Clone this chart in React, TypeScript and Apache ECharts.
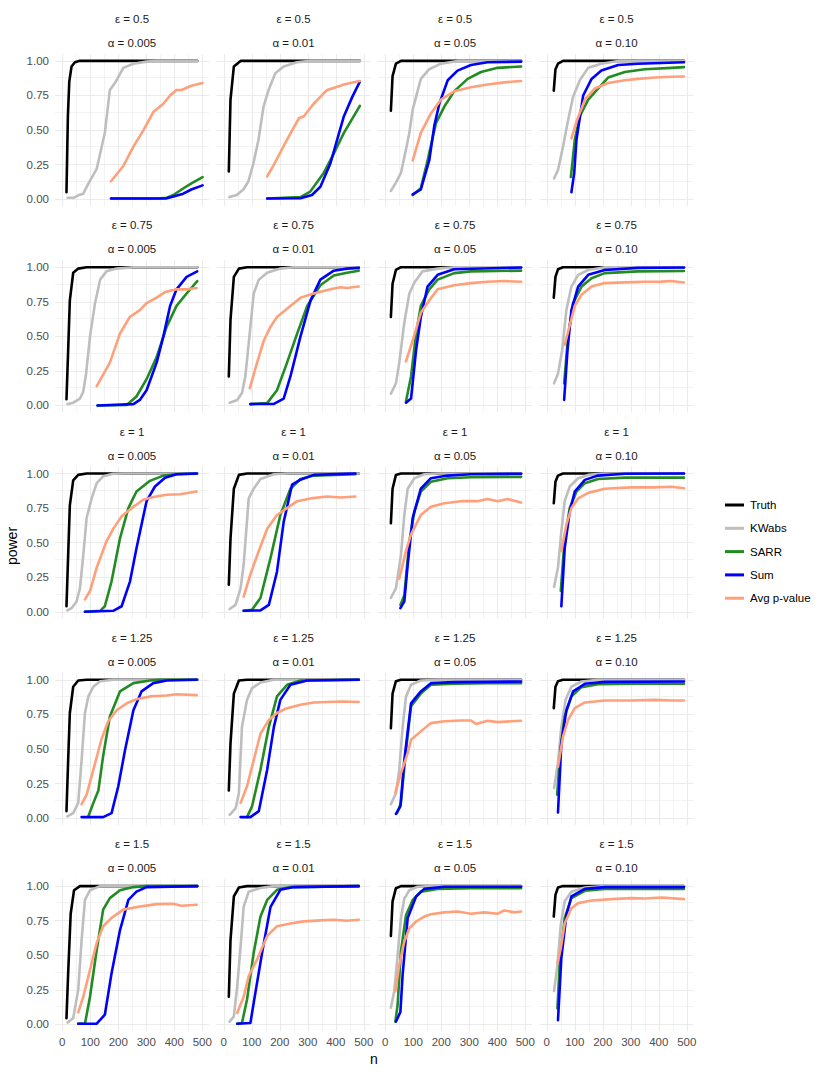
import React, { useEffect, useRef } from "react";
import * as echarts from "echarts";

// ---- labels / ticks ----
const EPS = ["0.5", "0.75", "1", "1.25", "1.5"];
const ALPHA = ["0.005", "0.01", "0.05", "0.10"];
const SERIES_NAMES = ["Truth", "KWabs", "SARR", "Sum", "Avg p-value"];
const SERIES_COLORS = ["#000000", "#bebebe", "#228b22", "#0000ff", "#ffa07a"];
const X_TICKS = [0, 100, 200, 300, 400, 500];
const Y_TICKS = [0, 0.25, 0.5, 0.75, 1];
const X_MAJOR = [0, 100, 200, 300, 400, 500];
const X_MINOR = [50, 150, 250, 350, 450];
const Y_MAJOR = [0, 0.25, 0.5, 0.75, 1];
const Y_MINOR = [0.125, 0.375, 0.625, 0.875];

// ---- data: each array holds the 4 alpha panels (0.005, 0.01, 0.05, 0.10) for one epsilon ----
// epsilon = 0.5
const truthE050 = [
  [[15,0.05],[20,0.6],[25,0.85],[33,0.96],[45,0.99],[60,1],[482,1]],
  [[18,0.2],[24,0.72],[36,0.96],[60,1],[486,1]],
  [[20,0.64],[26,0.89],[38,0.98],[56,1],[485,1]],
  [[25,0.785],[31,0.94],[40,0.98],[58,1],[490,1]],
];
const kwabsE050 = [
  [[19,0.01],[40,0.01],[60,0.03],[75,0.04],[95,0.12],[123,0.22],[152,0.48],[170,0.79],[188,0.84],[218,0.95],[254,0.98],[301,0.995],[340,1],[482,1]],
  [[20,0.015],[46,0.03],[70,0.07],[88,0.13],[106,0.26],[124,0.43],[142,0.67],[160,0.79],[184,0.91],[214,0.96],[261,0.99],[309,1],[486,1]],
  [[20,0.06],[38,0.12],[56,0.19],[74,0.36],[86,0.48],[98,0.65],[110,0.74],[127,0.87],[157,0.94],[199,0.98],[258,1],[485,1]],
  [[26,0.15],[40,0.21],[58,0.38],[76,0.57],[94,0.74],[118,0.86],[148,0.95],[195,0.98],[255,1],[490,1]],
];
const sarrE050 = [
  [[174,0.005],[340,0.005],[373,0.01],[397,0.03],[426,0.07],[461,0.115],[501,0.16]],
  [[155,0.005],[274,0.015],[309,0.055],[357,0.19],[393,0.33],[429,0.48],[486,0.675]],
  [[98,0.03],[127,0.08],[151,0.28],[181,0.55],[211,0.67],[246,0.78],[294,0.87],[342,0.92],[401,0.95],[485,0.96]],
  [[86,0.16],[100,0.43],[118,0.6],[148,0.72],[183,0.8],[219,0.88],[279,0.92],[350,0.94],[445,0.95],[490,0.955]],
];
const sumE050 = [
  [[174,0.005],[370,0.005],[397,0.02],[432,0.04],[461,0.07],[501,0.1]],
  [[155,0.005],[274,0.007],[315,0.03],[345,0.09],[381,0.26],[405,0.43],[429,0.6],[459,0.74],[486,0.85]],
  [[98,0.035],[127,0.07],[157,0.28],[175,0.53],[193,0.69],[223,0.86],[258,0.93],[306,0.97],[365,0.99],[485,0.995]],
  [[88,0.05],[98,0.19],[106,0.43],[130,0.75],[160,0.87],[195,0.93],[255,0.97],[326,0.98],[490,0.99]],
];
const avgE050 = [
  [[174,0.13],[218,0.24],[254,0.38],[290,0.5],[325,0.63],[361,0.69],[385,0.75],[408,0.79],[426,0.79],[461,0.82],[501,0.84]],
  [[155,0.165],[179,0.25],[226,0.43],[268,0.585],[286,0.6],[321,0.69],[369,0.79],[417,0.82],[429,0.83],[464,0.845],[486,0.855]],
  [[98,0.28],[127,0.48],[163,0.62],[199,0.72],[246,0.78],[306,0.81],[365,0.83],[425,0.845],[485,0.855]],
  [[88,0.44],[106,0.56],[136,0.72],[171,0.8],[219,0.84],[279,0.86],[326,0.87],[386,0.88],[445,0.885],[490,0.887]],
];
// epsilon = 0.75
const truthE075 = [
  [[15,0.045],[21,0.4],[27,0.76],[39,0.96],[57,0.99],[87,1],[482,1]],
  [[18,0.21],[24,0.62],[36,0.93],[54,0.99],[83,1],[482,1]],
  [[20,0.64],[26,0.88],[38,0.98],[56,1],[485,1]],
  [[25,0.78],[31,0.93],[40,0.985],[58,1],[490,1]],
];
const kwabsE075 = [
  [[19,0.01],[39,0.02],[63,0.05],[75,0.1],[85,0.23],[99,0.5],[117,0.74],[135,0.91],[158,0.97],[194,0.99],[254,1],[482,1]],
  [[21,0.02],[48,0.04],[65,0.09],[77,0.21],[89,0.45],[107,0.81],[125,0.91],[155,0.96],[202,0.99],[250,1],[482,1]],
  [[20,0.085],[38,0.16],[50,0.31],[68,0.6],[86,0.81],[104,0.89],[133,0.97],[187,0.99],[246,1],[485,1]],
  [[26,0.16],[40,0.23],[55,0.4],[70,0.69],[88,0.86],[112,0.945],[148,0.98],[207,1],[490,1]],
];
const sarrE075 = [
  [[126,0],[230,0.003],[265,0.065],[301,0.19],[337,0.35],[373,0.57],[408,0.72],[444,0.81],[482,0.9]],
  [[95,0.01],[155,0.017],[190,0.11],[226,0.31],[262,0.52],[298,0.72],[345,0.87],[393,0.94],[440,0.96],[482,0.975]],
  [[74,0.03],[92,0.21],[110,0.52],[127,0.72],[157,0.84],[187,0.91],[246,0.957],[306,0.97],[485,0.975]],
  [[62,0.16],[76,0.5],[94,0.74],[124,0.86],[160,0.92],[207,0.957],[326,0.97],[490,0.973]],
];
const sumE075 = [
  [[126,0],[254,0.01],[277,0.04],[301,0.11],[337,0.31],[361,0.5],[385,0.72],[408,0.84],[444,0.93],[482,0.97]],
  [[95,0.01],[179,0.012],[214,0.05],[238,0.21],[274,0.5],[310,0.76],[345,0.91],[393,0.975],[440,0.99],[482,0.995]],
  [[74,0.02],[92,0.05],[110,0.4],[127,0.64],[151,0.86],[187,0.945],[246,0.985],[485,0.998]],
  [[62,0.04],[74,0.4],[88,0.69],[112,0.86],[148,0.945],[207,0.98],[326,0.995],[490,0.998]],
];
const avgE075 = [
  [[123,0.14],[170,0.31],[206,0.52],[241,0.64],[277,0.69],[301,0.74],[337,0.78],[367,0.82],[408,0.84],[444,0.84],[480,0.85]],
  [[93,0.125],[119,0.31],[143,0.47],[167,0.57],[190,0.64],[226,0.7],[274,0.78],[321,0.81],[381,0.84],[417,0.855],[440,0.85],[482,0.86]],
  [[74,0.32],[98,0.47],[127,0.67],[157,0.76],[187,0.84],[246,0.87],[306,0.885],[365,0.895],[425,0.9],[485,0.895]],
  [[64,0.44],[82,0.58],[100,0.72],[124,0.8],[160,0.86],[207,0.885],[279,0.89],[350,0.895],[410,0.896],[445,0.9],[490,0.89]],
];
// epsilon = 1
const truthE100 = [
  [[15,0.04],[21,0.41],[27,0.77],[39,0.95],[57,0.99],[87,1],[482,1]],
  [[18,0.195],[24,0.53],[36,0.89],[54,0.99],[83,1],[482,1]],
  [[20,0.64],[26,0.89],[38,0.99],[56,1],[485,1]],
  [[25,0.785],[31,0.94],[40,0.985],[58,1],[490,1]],
];
const kwabsE100 = [
  [[18,0.01],[33,0.026],[51,0.075],[63,0.17],[75,0.41],[87,0.68],[105,0.82],[123,0.93],[146,0.98],[182,0.998],[220,1],[482,1]],
  [[21,0.02],[42,0.05],[60,0.17],[71,0.34],[89,0.82],[107,0.89],[131,0.96],[179,0.995],[226,1],[482,1]],
  [[20,0.1],[38,0.17],[56,0.41],[68,0.7],[80,0.89],[104,0.966],[139,0.995],[187,1],[485,1]],
  [[26,0.18],[40,0.32],[52,0.58],[64,0.8],[82,0.906],[112,0.966],[148,0.99],[207,1],[490,1]],
];
const sarrE100 = [
  [[81,0],[135,0.007],[152,0.04],[176,0.22],[206,0.53],[236,0.75],[265,0.87],[313,0.947],[361,0.985],[408,0.995],[480,0.998]],
  [[71,0.007],[101,0.015],[131,0.1],[167,0.39],[202,0.7],[238,0.89],[274,0.96],[321,0.985],[470,0.995]],
  [[54,0.05],[68,0.12],[86,0.51],[104,0.725],[127,0.87],[163,0.94],[223,0.966],[306,0.973],[485,0.976]],
  [[50,0.15],[64,0.53],[82,0.75],[106,0.87],[136,0.93],[183,0.96],[279,0.97],[490,0.97]],
];
const sumE100 = [
  [[81,0],[182,0.007],[212,0.04],[242,0.22],[265,0.46],[301,0.8],[331,0.906],[367,0.97],[408,0.995],[480,1]],
  [[71,0.007],[131,0.01],[161,0.05],[190,0.29],[214,0.65],[244,0.92],[274,0.955],[321,0.99],[470,1]],
  [[54,0.027],[68,0.075],[80,0.34],[98,0.68],[127,0.89],[163,0.966],[223,0.985],[306,0.995],[485,0.998]],
  [[52,0.04],[64,0.46],[82,0.725],[100,0.87],[136,0.954],[183,0.985],[279,0.998],[490,1]],
];
const avgE100 = [
  [[81,0.09],[99,0.15],[123,0.32],[158,0.51],[182,0.6],[212,0.69],[248,0.75],[289,0.81],[325,0.83],[373,0.846],[420,0.85],[480,0.87]],
  [[71,0.11],[95,0.27],[125,0.44],[155,0.6],[190,0.7],[226,0.75],[262,0.8],[310,0.82],[369,0.834],[417,0.826],[470,0.834]],
  [[50,0.24],[74,0.44],[92,0.56],[127,0.7],[163,0.76],[211,0.785],[270,0.8],[330,0.8],[365,0.815],[401,0.8],[437,0.815],[485,0.79]],
  [[52,0.44],[70,0.63],[88,0.75],[112,0.82],[148,0.86],[207,0.89],[302,0.9],[386,0.9],[445,0.904],[490,0.894]],
];
// epsilon = 1.25
const truthE125 = [
  [[15,0.05],[21,0.42],[27,0.76],[39,0.95],[57,0.995],[87,1],[482,1]],
  [[18,0.2],[24,0.54],[36,0.9],[54,0.995],[83,1],[482,1]],
  [[20,0.65],[26,0.9],[38,0.99],[56,1],[485,1]],
  [[25,0.795],[31,0.95],[40,0.99],[58,1],[490,1]],
];
const kwabsE125 = [
  [[18,0.012],[39,0.036],[57,0.11],[69,0.42],[81,0.76],[93,0.88],[111,0.95],[135,0.99],[182,1],[482,1]],
  [[21,0.024],[42,0.07],[54,0.18],[65,0.66],[83,0.855],[101,0.94],[131,0.98],[179,1],[482,1]],
  [[20,0.1],[38,0.18],[50,0.35],[62,0.66],[74,0.88],[92,0.964],[127,0.995],[187,1],[485,1]],
  [[26,0.217],[40,0.4],[52,0.66],[67,0.855],[88,0.95],[124,0.988],[183,1],[490,1]],
];
const sarrE125 = [
  [[93,0.012],[111,0.11],[129,0.2],[146,0.45],[170,0.735],[206,0.916],[254,0.976],[313,0.995],[349,1],[482,1]],
  [[83,0.007],[101,0.085],[131,0.35],[161,0.66],[190,0.88],[226,0.964],[274,0.995],[482,1]],
  [[42,0.036],[56,0.11],[74,0.49],[92,0.81],[127,0.9],[163,0.964],[246,0.971],[365,0.976],[485,0.976]],
  [[37,0.17],[50,0.52],[64,0.735],[88,0.88],[124,0.947],[183,0.968],[326,0.971],[490,0.971]],
];
const sumE125 = [
  [[69,0.007],[146,0.007],[176,0.036],[200,0.23],[224,0.49],[254,0.78],[283,0.916],[325,0.976],[373,0.995],[480,1]],
  [[60,0.007],[95,0.007],[125,0.05],[155,0.35],[179,0.66],[202,0.855],[238,0.964],[298,0.995],[482,1]],
  [[38,0.03],[54,0.085],[68,0.42],[92,0.83],[127,0.916],[163,0.976],[246,0.983],[365,0.985],[485,0.988]],
  [[40,0.04],[52,0.54],[70,0.78],[94,0.916],[136,0.971],[207,0.985],[490,0.988]],
];
const avgE125 = [
  [[69,0.1],[87,0.17],[111,0.35],[140,0.57],[164,0.7],[194,0.78],[230,0.83],[265,0.86],[313,0.88],[373,0.887],[408,0.896],[480,0.889]],
  [[60,0.11],[83,0.23],[107,0.42],[131,0.61],[161,0.71],[190,0.76],[226,0.795],[274,0.82],[321,0.836],[369,0.84],[423,0.843],[482,0.84]],
  [[36,0.185],[56,0.325],[80,0.47],[92,0.566],[127,0.627],[163,0.687],[211,0.7],[270,0.706],[306,0.706],[324,0.68],[365,0.704],[401,0.694],[449,0.7],[485,0.704]],
  [[40,0.37],[58,0.59],[76,0.71],[100,0.795],[136,0.836],[207,0.85],[302,0.85],[386,0.855],[445,0.85],[490,0.85]],
];
// epsilon = 1.5
const truthE150 = [
  [[15,0.045],[21,0.37],[30,0.8],[42,0.97],[63,1],[482,1]],
  [[18,0.2],[24,0.61],[36,0.925],[54,0.99],[83,1],[482,1]],
  [[20,0.64],[26,0.89],[38,0.985],[56,1],[485,1]],
  [[25,0.78],[31,0.937],[40,0.99],[58,1],[490,1]],
];
const kwabsE150 = [
  [[19,0.014],[39,0.045],[57,0.25],[69,0.61],[81,0.9],[99,0.97],[135,1],[482,1]],
  [[21,0.02],[36,0.058],[48,0.275],[60,0.56],[71,0.85],[89,0.96],[131,0.986],[179,1],[482,1]],
  [[20,0.12],[32,0.24],[44,0.5],[56,0.77],[68,0.91],[86,0.97],[115,0.995],[163,1],[485,1]],
  [[26,0.24],[38,0.43],[50,0.72],[64,0.89],[88,0.96],[136,0.99],[207,1],[490,1]],
];
const sarrE150 = [
  [[57,0.005],[81,0.005],[99,0.2],[123,0.54],[146,0.83],[170,0.913],[206,0.97],[254,0.993],[301,1],[482,1]],
  [[48,0.005],[65,0.01],[83,0.18],[107,0.52],[131,0.78],[155,0.9],[190,0.973],[238,0.993],[482,1]],
  [[36,0.02],[44,0.14],[56,0.53],[74,0.79],[98,0.9],[127,0.96],[187,0.98],[306,0.985],[485,0.985]],
  [[38,0.116],[46,0.43],[64,0.77],[88,0.913],[136,0.966],[207,0.98],[326,0.98],[490,0.98]],
];
const sumE150 = [
  [[57,0.005],[123,0.005],[152,0.07],[176,0.37],[206,0.68],[236,0.9],[265,0.96],[301,0.993],[482,1]],
  [[48,0.005],[95,0.01],[113,0.23],[137,0.52],[167,0.85],[202,0.973],[250,0.993],[482,1]],
  [[38,0.02],[54,0.09],[62,0.36],[80,0.77],[110,0.925],[139,0.98],[211,0.995],[485,0.995]],
  [[40,0.03],[52,0.48],[70,0.79],[88,0.925],[136,0.98],[207,0.993],[490,0.993]],
];
const avgE150 = [
  [[57,0.087],[75,0.2],[99,0.395],[123,0.59],[146,0.71],[176,0.77],[218,0.83],[277,0.853],[337,0.87],[396,0.872],[426,0.858],[480,0.865]],
  [[48,0.082],[71,0.2],[89,0.35],[119,0.47],[155,0.64],[190,0.71],[238,0.73],[286,0.745],[345,0.752],[393,0.757],[440,0.75],[482,0.757]],
  [[36,0.24],[50,0.43],[68,0.6],[86,0.695],[110,0.744],[139,0.78],[163,0.797],[211,0.81],[258,0.816],[306,0.8],[354,0.81],[401,0.8],[425,0.824],[461,0.81],[485,0.816]],
  [[38,0.44],[50,0.55],[64,0.73],[88,0.84],[112,0.877],[160,0.896],[231,0.906],[302,0.913],[350,0.91],[410,0.918],[490,0.906]],
];

const SERIES_DATA: any[][][] = [
  [truthE050, truthE075, truthE100, truthE125, truthE150],
  [kwabsE050, kwabsE075, kwabsE100, kwabsE125, kwabsE150],
  [sarrE050, sarrE075, sarrE100, sarrE125, sarrE150],
  [sumE050, sumE075, sumE100, sumE125, sumE150],
  [avgE050, avgE075, avgE100, avgE125, avgE150],
];

const FONT = '"Liberation Sans", Arial, Helvetica, sans-serif';

function buildOption() {
  const grids: any[] = [];
  const xAxes: any[] = [];
  const yAxes: any[] = [];
  const series: any[] = [];
  const graphics: any[] = [];

  const PANEL_W = 154;
  const PANEL_H = 152.1;
  const COL_STEP = 161.5;
  const ROW_STEP = 206.3;
  const LEFT0 = 55;
  const TOP0 = 54;

  for (let r = 0; r < EPS.length; r++) {
    for (let c = 0; c < ALPHA.length; c++) {
      const idx = r * ALPHA.length + c;
      const left = LEFT0 + c * COL_STEP;
      const top = TOP0 + r * ROW_STEP;
      grids.push({ left, top, width: PANEL_W, height: PANEL_H, containLabel: false });
      xAxes.push({
        type: "value",
        gridIndex: idx,
        min: -26,
        max: 524,
        splitLine: { show: false },
        axisLine: { show: false },
        axisTick: { show: false },
        axisLabel: {
          show: r === EPS.length - 1,
          customValues: X_TICKS,
          margin: 5,
          fontSize: 11.5,
          color: "#4d4d4d",
          fontFamily: FONT,
        },
      });
      yAxes.push({
        type: "value",
        gridIndex: idx,
        min: -0.05,
        max: 1.05,
        splitLine: { show: false },
        axisLine: { show: false },
        axisTick: { show: false },
        axisLabel: {
          show: c === 0,
          customValues: Y_TICKS,
          formatter: (v: number) => v.toFixed(2),
          margin: 6,
          fontSize: 11.5,
          color: "#4d4d4d",
          fontFamily: FONT,
        },
      });
      // grid lines through the axes' scales (kept beneath the data lines)
      const ml: any[] = [];
      X_MINOR.forEach((v) => ml.push({ xAxis: v, lineStyle: { color: "#ebebeb", width: 0.6, type: "solid" } }));
      Y_MINOR.forEach((v) => ml.push({ yAxis: v, lineStyle: { color: "#ebebeb", width: 0.6, type: "solid" } }));
      X_MAJOR.forEach((v) => ml.push({ xAxis: v, lineStyle: { color: "#ebebeb", width: 1.1, type: "solid" } }));
      Y_MAJOR.forEach((v) => ml.push({ yAxis: v, lineStyle: { color: "#ebebeb", width: 1.1, type: "solid" } }));
      series.push({
        type: "line",
        name: "__grid" + idx,
        xAxisIndex: idx,
        yAxisIndex: idx,
        data: [[0, 0.5]],
        symbol: "none",
        showSymbol: false,
        lineStyle: { opacity: 0 },
        silent: true,
        z: 0,
        markLine: {
          z: 0,
          silent: true,
          symbol: ["none", "none"],
          label: { show: false },
          emphasis: { disabled: true },
          data: ml,
        },
      });
      SERIES_NAMES.forEach((name, k) => {
        series.push({
          type: "line",
          name,
          xAxisIndex: idx,
          yAxisIndex: idx,
          data: SERIES_DATA[k][r][c],
          symbol: "none",
          showSymbol: false,
          color: SERIES_COLORS[k],
          itemStyle: { color: SERIES_COLORS[k] },
          lineStyle: { width: 2.6, color: SERIES_COLORS[k], join: "round", cap: "round" },
          emphasis: { disabled: true },
          silent: true,
          z: 10 + k,
        });
      });
      const cx = left + PANEL_W / 2;
      graphics.push({
        type: "text",
        x: cx,
        y: 19 + r * ROW_STEP,
        style: {
          text: "\u03b5 = " + EPS[r],
          textAlign: "center",
          textVerticalAlign: "middle",
          fontSize: 11.5,
          fontFamily: FONT,
          fill: "#1a1a1a",
        },
      });
      graphics.push({
        type: "text",
        x: cx,
        y: 43 + r * ROW_STEP,
        style: {
          text: "\u03b1 = " + ALPHA[c],
          textAlign: "center",
          textVerticalAlign: "middle",
          fontSize: 11.5,
          fontFamily: FONT,
          fill: "#1a1a1a",
        },
      });
    }
  }

  graphics.push({
    type: "text",
    x: 12,
    y: 546,
    rotation: Math.PI / 2,
    style: {
      text: "power",
      textAlign: "center",
      textVerticalAlign: "middle",
      fontSize: 14,
      fontFamily: FONT,
      fill: "#000000",
    },
  });
  graphics.push({
    type: "text",
    x: 374,
    y: 1059,
    style: {
      text: "n",
      textAlign: "center",
      textVerticalAlign: "middle",
      fontSize: 14,
      fontFamily: FONT,
      fill: "#000000",
    },
  });

  return {
    animation: false,
    backgroundColor: "#ffffff",
    grid: grids,
    xAxis: xAxes,
    yAxis: yAxes,
    series,
    graphic: graphics,
    legend: {
      orient: "vertical",
      left: 720,
      top: 493,
      itemWidth: 19,
      itemHeight: 3,
      itemGap: 9.3,
      icon: "rect",
      selectedMode: false,
      data: SERIES_NAMES,
      textStyle: {
        fontSize: 11.5,
        fontFamily: FONT,
        color: "#000000",
        lineHeight: 14,
        padding: [0, 0, 0, 1],
      },
    },
  };
}

export default function App() {
  const ref = useRef<HTMLDivElement>(null);
  useEffect(() => {
    if (!ref.current) return;
    const chart = echarts.init(ref.current, undefined, { renderer: "svg" });
    chart.setOption(buildOption() as any);
    return () => chart.dispose();
  }, []);
  return (
    <div
      ref={ref}
      style={{ position: "absolute", left: 0, top: 0, width: 830, height: 1075, background: "#fff" }}
    />
  );
}
